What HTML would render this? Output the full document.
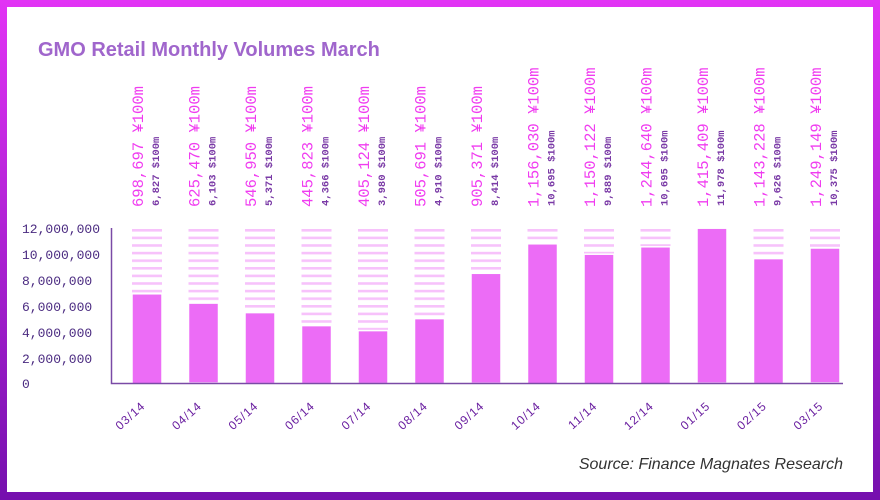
<!DOCTYPE html>
<html><head><meta charset="utf-8"><style>
html,body{margin:0;padding:0;width:880px;height:500px;overflow:hidden;background:#fff}
</style></head><body>
<svg width="880" height="500" xmlns="http://www.w3.org/2000/svg">
<defs>
<linearGradient id="bg" x1="0" y1="0" x2="0" y2="1">
<stop offset="0" stop-color="#e233f5"/><stop offset="1" stop-color="#7510ae"/>
</linearGradient>
<pattern id="st" x="0" y="229" width="10" height="7.6" patternUnits="userSpaceOnUse">
<rect x="0" y="0" width="10" height="2.6" fill="#f7c2fb"/>
</pattern>
</defs>
<rect x="0" y="0" width="880" height="500" fill="url(#bg)"/>
<rect x="7" y="7" width="866" height="485" fill="#fff"/>
<text x="38" y="56" font-family="Liberation Sans, sans-serif" font-weight="bold" font-size="20" fill="#a066cc">GMO Retail Monthly Volumes March</text>
<g font-family="Liberation Mono, monospace" font-size="13" fill="#4a2a80">
<text x="22" y="233">12,000,000</text>
<text x="22" y="259">10,000,000</text>
<text x="22" y="285">8,000,000</text>
<text x="22" y="311">6,000,000</text>
<text x="22" y="337">4,000,000</text>
<text x="22" y="363">2,000,000</text>
<text x="22" y="388">0</text>
</g>
<g fill="url(#st)">
<rect x="132" y="229" width="30" height="154"/><rect x="188.5" y="229" width="30" height="154"/><rect x="245" y="229" width="30" height="154"/><rect x="301.5" y="229" width="30" height="154"/><rect x="358" y="229" width="30" height="154"/><rect x="414.5" y="229" width="30" height="154"/><rect x="471" y="229" width="30" height="154"/><rect x="527.5" y="229" width="30" height="154"/><rect x="584" y="229" width="30" height="154"/><rect x="640.5" y="229" width="30" height="154"/><rect x="753.5" y="229" width="30" height="154"/><rect x="810" y="229" width="30" height="154"/>
</g>
<g fill="#ec6cf6" stroke="#fff" stroke-width="1.5">
<rect x="132" y="293.8" width="30" height="90"/>
<rect x="188.5" y="303.1" width="30" height="80"/>
<rect x="245" y="312.6" width="30" height="71"/>
<rect x="301.5" y="325.6" width="30" height="58"/>
<rect x="358" y="330.6" width="30" height="53"/>
<rect x="414.5" y="318.6" width="30" height="65"/>
<rect x="471" y="273.3" width="30" height="110"/>
<rect x="527.5" y="243.8" width="30" height="140"/>
<rect x="584" y="254.2" width="30" height="130"/>
<rect x="640.5" y="246.8" width="30" height="137"/>
<rect x="697" y="228.2" width="30" height="155"/>
<rect x="753.5" y="258.6" width="30" height="125"/>
<rect x="810" y="248.0" width="30" height="135"/>
</g>
<path d="M111.5 228 V383.5 H843" fill="none" stroke="#7a4aa6" stroke-width="1.5"/>
<g font-family="Liberation Mono, monospace" font-size="15.5" fill="#f03cf0">
<text transform="translate(143,207) rotate(-90)">698,697 ¥100m</text>
<text transform="translate(199.5,207) rotate(-90)">625,470 ¥100m</text>
<text transform="translate(256,207) rotate(-90)">546,950 ¥100m</text>
<text transform="translate(312.5,207) rotate(-90)">445,823 ¥100m</text>
<text transform="translate(369,207) rotate(-90)">405,124 ¥100m</text>
<text transform="translate(425.5,207) rotate(-90)">505,691 ¥100m</text>
<text transform="translate(482,207) rotate(-90)">905,371 ¥100m</text>
<text transform="translate(538.5,207) rotate(-90)">1,156,030 ¥100m</text>
<text transform="translate(595,207) rotate(-90)">1,150,122 ¥100m</text>
<text transform="translate(651.5,207) rotate(-90)">1,244,640 ¥100m</text>
<text transform="translate(708,207) rotate(-90)">1,415,409 ¥100m</text>
<text transform="translate(764.5,207) rotate(-90)">1,143,228 ¥100m</text>
<text transform="translate(821,207) rotate(-90)">1,249,149 ¥100m</text>
</g>
<g font-family="Liberation Mono, monospace" font-size="10.5" font-weight="bold" fill="#7a3aa6">
<text transform="translate(159,206) rotate(-90)">6,827 $100m</text>
<text transform="translate(215.5,206) rotate(-90)">6,103 $100m</text>
<text transform="translate(272,206) rotate(-90)">5,371 $100m</text>
<text transform="translate(328.5,206) rotate(-90)">4,366 $100m</text>
<text transform="translate(385,206) rotate(-90)">3,980 $100m</text>
<text transform="translate(441.5,206) rotate(-90)">4,910 $100m</text>
<text transform="translate(498,206) rotate(-90)">8,414 $100m</text>
<text transform="translate(554.5,206) rotate(-90)">10,695 $100m</text>
<text transform="translate(611,206) rotate(-90)">9,889 $100m</text>
<text transform="translate(667.5,206) rotate(-90)">10,695 $100m</text>
<text transform="translate(724,206) rotate(-90)">11,978 $100m</text>
<text transform="translate(780.5,206) rotate(-90)">9,626 $100m</text>
<text transform="translate(837,206) rotate(-90)">10,375 $100m</text>
</g>
<g font-family="Liberation Sans, sans-serif" font-size="12" fill="#6a1fa0" text-anchor="end" letter-spacing="1">
<text transform="translate(146,407) rotate(-42)">03/14</text>
<text transform="translate(202.5,407) rotate(-42)">04/14</text>
<text transform="translate(259,407) rotate(-42)">05/14</text>
<text transform="translate(315.5,407) rotate(-42)">06/14</text>
<text transform="translate(372,407) rotate(-42)">07/14</text>
<text transform="translate(428.5,407) rotate(-42)">08/14</text>
<text transform="translate(485,407) rotate(-42)">09/14</text>
<text transform="translate(541.5,407) rotate(-42)">10/14</text>
<text transform="translate(598,407) rotate(-42)">11/14</text>
<text transform="translate(654.5,407) rotate(-42)">12/14</text>
<text transform="translate(711,407) rotate(-42)">01/15</text>
<text transform="translate(767.5,407) rotate(-42)">02/15</text>
<text transform="translate(824,407) rotate(-42)">03/15</text>
</g>
<text x="843" y="469" text-anchor="end" font-family="Liberation Sans, sans-serif" font-style="italic" font-size="16" fill="#333">Source: Finance Magnates Research</text>
</svg>
</body></html>
